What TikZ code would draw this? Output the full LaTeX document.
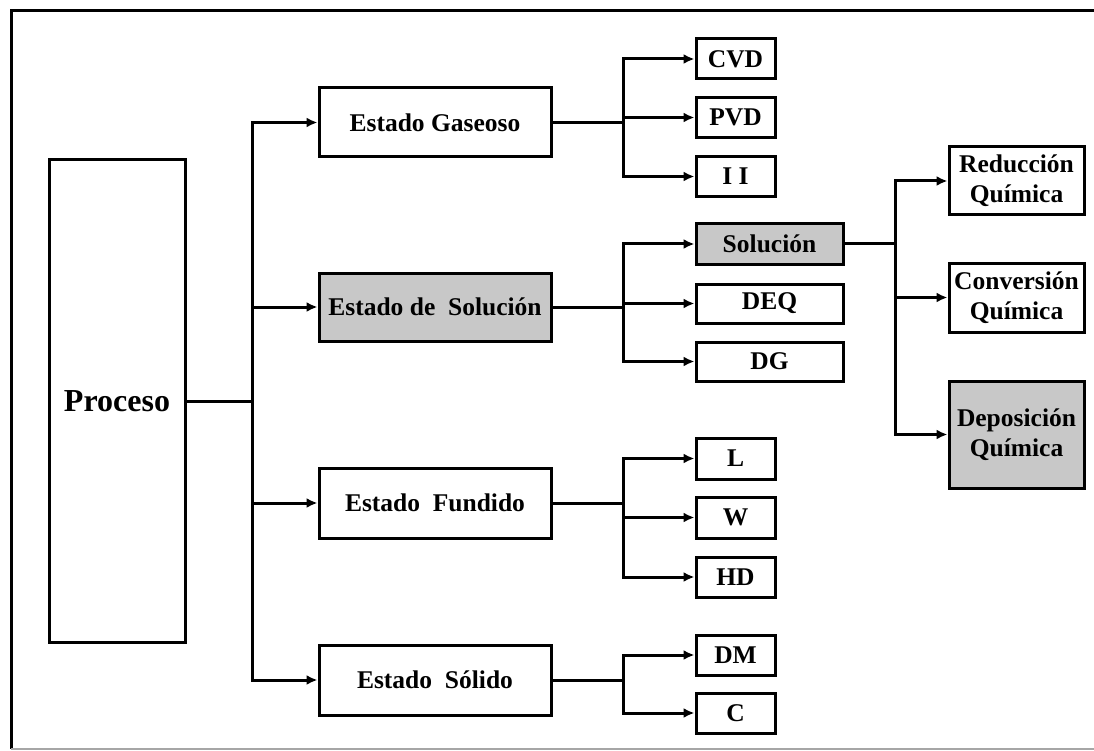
\documentclass[tikz,border=0pt]{standalone}
\usepackage{fontspec}
\setmainfont{Liberation Serif}
\usetikzlibrary{arrows.meta}
\definecolor{boxgray}{RGB}{200,200,200}
\tikzset{
  box/.style={draw=black, line width=3pt, fill=white, rectangle, inner sep=0pt,
    font=\fontsize{25.5}{30}\selectfont\bfseries, align=center},
  graybox/.style={box, fill=boxgray},
  conn/.style={line width=3pt, draw=black},
  arr/.style={conn, -{Latex[length=11pt,width=10pt]}},
}
\begin{document}
\begin{tikzpicture}[x=1pt,y=-1pt]
\useasboundingbox (0,0) rectangle (1094,751);
% frame
\draw[line width=3pt] (1100,11) -- (11,11) -- (11,749);
\draw[line width=2pt, draw=gray!70] (11,749) -- (1100,749);

% nodes
\node[box, minimum width=136pt, minimum height=482pt, font=\fontsize{32}{36}\selectfont\bfseries] (proc) at (117,401) {Proceso};

\node[box, minimum width=232pt, minimum height=69pt] (gas) at (435,122.5) {Estado Gaseoso};
\node[graybox, minimum width=232pt, minimum height=68pt] (esol) at (435,307) {Estado de~ Solución};
\node[box, minimum width=232pt, minimum height=70pt] (fun) at (435,503) {Estado~ Fundido};
\node[box, minimum width=232pt, minimum height=70pt] (sol) at (435,680) {Estado~ Sólido};

\node[box, minimum width=79pt, minimum height=40pt] (cvd) at (735.5,59) {CVD};
\node[box, minimum width=79pt, minimum height=40pt] (pvd) at (735.5,117.5) {PVD};
\node[box, minimum width=79pt, minimum height=40pt] (ii) at (735.5,176.5) {I I};

\node[graybox, minimum width=147pt, minimum height=40pt] (solu) at (769.5,244) {Solución};
\node[box, minimum width=147pt, minimum height=39pt] (deq) at (769.5,303.5) {DEQ};
\node[box, minimum width=147pt, minimum height=39pt] (dg) at (769.5,361.5) {DG};

\node[box, minimum width=79pt, minimum height=41pt] (l) at (735.5,458.5) {L};
\node[box, minimum width=79pt, minimum height=41pt] (w) at (735.5,517.5) {W};
\node[box, minimum width=79pt, minimum height=40pt] (hd) at (735.5,577) {HD};
\node[box, minimum width=79pt, minimum height=40pt] (dm) at (735.5,655) {DM};
\node[box, minimum width=79pt, minimum height=40pt] (c) at (735.5,713) {C};

\node[box, minimum width=135pt, minimum height=68pt] (red) at (1016.5,181) {Reducción\\Química};
\node[box, minimum width=135pt, minimum height=69pt] (conv) at (1016.5,297.5) {Conversión\\Química};
\node[graybox, minimum width=135pt, minimum height=107pt] (dep) at (1016.5,434.5) {Deposición\\Química};

% branch points
\coordinate (bp) at (252,401);
\coordinate (bg) at (623,122.5);
\coordinate (be) at (623,307);
\coordinate (bf) at (623,503);
\coordinate (bs) at (623,680);
\coordinate (bq) at (895,244);

% connectors
\draw[conn] (proc.east |- bp) -- (bp);
\foreach \t in {gas,esol,fun,sol} \draw[arr] (bp) |- (\t.west);

\draw[conn] (gas.east) -- (bg);
\foreach \t in {cvd,pvd,ii} \draw[arr] (bg) |- (\t.west);

\draw[conn] (esol.east) -- (be);
\foreach \t in {solu,deq,dg} \draw[arr] (be) |- (\t.west);

\draw[conn] (fun.east) -- (bf);
\foreach \t in {l,w,hd} \draw[arr] (bf) |- (\t.west);

\draw[conn] (sol.east) -- (bs);
\foreach \t in {dm,c} \draw[arr] (bs) |- (\t.west);

\draw[conn] (solu.east) -- (bq);
\foreach \t in {red,conv,dep} \draw[arr] (bq) |- (\t.west);
\end{tikzpicture}
\end{document}
